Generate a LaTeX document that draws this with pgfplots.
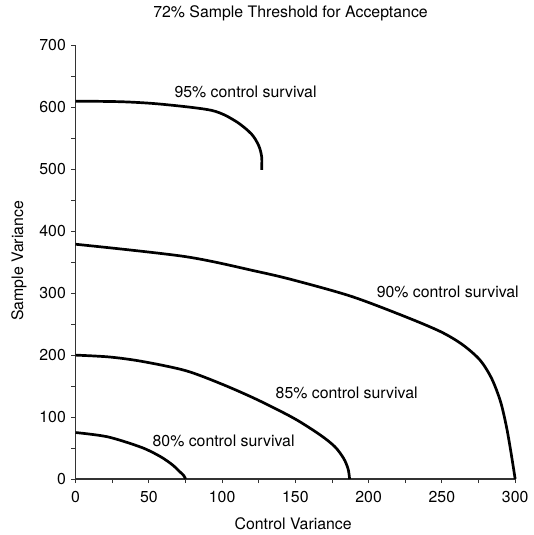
\documentclass[border=0pt]{standalone}
\usepackage{pgfplots}
\pgfplotsset{compat=1.18}
\usepackage{fontspec}
\setmainfont{TeX Gyre Heros}
\begin{document}
\begin{tikzpicture}
\begin{axis}[
  scale only axis,
  width=276.25bp, height=272.5bp,
  xmin=0, xmax=300, ymin=0, ymax=700,
  axis x line=bottom, axis y line=left,
  axis line style={-, line width=0.9pt, black!80},
  xtick={0,50,...,300}, ytick={0,100,...,700},
  minor tick num=1,
  tick align=outside,
  major tick length=2.6bp, minor tick length=2.6bp,
  tick style={line width=0.6pt, black!80},
  /pgf/number format/assume math mode=true,
  ticklabel style={font=\fontsize{10}{12}\selectfont},
  xticklabel style={yshift=-1.5bp},
  clip=false,
  title={72\% Sample Threshold for Acceptance},
  title style={font=\fontsize{10}{12}\selectfont, at={(axis description cs:0.489,1.053)}, anchor=center},
  xlabel={Control Variance},
  xlabel style={font=\fontsize{10}{12}\selectfont, at={(axis description cs:0.495,-0.103)}, anchor=center},
  ylabel={Sample Variance},
  ylabel style={font=\fontsize{10}{12}\selectfont, at={(axis description cs:-0.129,0.503)}, anchor=center, rotate=0},
]
\addplot[black, line width=1.7pt, smooth, tension=0.5] coordinates {
  (0,610) (32,609) (59,605) (93,595) (109,578) (120,557) (125,538) (127,520) (127,499)
};
\addplot[black, line width=1.7pt, smooth, tension=0.5] coordinates {
  (0,379) (75,359) (124,335) (149,321) (188,295) (224,263) (249,238) (264,217) (276,192) (284,162) (290,125) (294,85) (297,45) (300,0)
};
\addplot[black, line width=1.7pt, smooth, tension=0.5] coordinates {
  (0,200) (23,197) (45,190) (75,175) (100,153) (124,128) (149,98) (167,71) (177,52) (183,33) (186,16) (187,0)
};
\addplot[black, line width=1.7pt, smooth, tension=0.5] coordinates {
  (0,75) (22,68) (45,51) (58,36) (66,23) (71,12) (74,5) (75,0)
};
\node[font=\fontsize{10}{12}\selectfont] at (axis cs:116,625) {95\% control survival};
\node[font=\fontsize{10}{12}\selectfont] at (axis cs:254,302) {90\% control survival};
\node[font=\fontsize{10}{12}\selectfont] at (axis cs:185,139) {85\% control survival};
\node[font=\fontsize{10}{12}\selectfont] at (axis cs:101,61) {80\% control survival};
\coordinate (bl) at (axis description cs:-0.172,-0.1147);
\coordinate (tr) at (axis description cs:1.0385,1.1032);
\end{axis}
\path (bl) rectangle (tr);
\end{tikzpicture}
\end{document}
